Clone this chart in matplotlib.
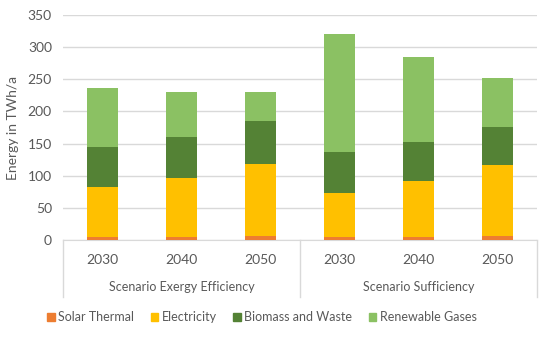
import matplotlib
matplotlib.use("Agg")
import matplotlib.pyplot as plt
import numpy as np
from matplotlib.transforms import blended_transform_factory
from matplotlib.patches import Patch

years = ["2030", "2040", "2050", "2030", "2040", "2050"]
groups = ["Scenario Exergy Efficiency", "Scenario Sufficiency"]
solar = [5, 5, 7, 5, 5, 7]
electricity = [78, 91, 111, 68, 87, 109]
biomass = [61, 65, 67, 64, 61, 60]
gases = [92, 69, 45, 184, 131, 76]
series = [("Solar Thermal", solar, "#ED7D31"),
          ("Electricity", electricity, "#FFC000"),
          ("Biomass and Waste", biomass, "#548235"),
          ("Renewable Gases", gases, "#8BC163")]

plt.rcParams['font.family'] = ['Lato', 'DejaVu Sans']
fig = plt.figure(figsize=(5.5, 3.37), dpi=100)
ax = fig.add_axes([63/550, 1-240/337, (537-63)/550, (240-15)/337])

x = np.arange(len(years))
bottom = np.zeros(len(years))
for name, vals, col in series:
    ax.bar(x, vals, width=0.39, bottom=bottom, color=col, label=name, zorder=3)
    bottom += np.array(vals)

ax.set_xlim(-0.5, 5.5)
ax.set_ylim(0, 350)
ax.set_yticks(range(0, 351, 50))
ax.yaxis.grid(True, color="#D9D9D9", linewidth=1)
ax.set_axisbelow(True)
for s in ["top", "right", "left"]:
    ax.spines[s].set_visible(False)
ax.spines["bottom"].set_color("#D9D9D9")
ax.tick_params(axis="y", length=0, labelsize=10, colors="#595959", pad=8)
ax.tick_params(axis="x", length=0, labelbottom=False)
ax.set_ylabel("Energy in TWh/a", fontsize=10, color="#595959", labelpad=6)

tr = blended_transform_factory(ax.transData, ax.transAxes)
h = (240-15)
for i, y in enumerate(years):
    ax.text(i, -(260-240)/h, y, transform=tr, ha="center", va="center",
            fontsize=10, color="#595959")
for g, name in enumerate(groups):
    ax.text(1 + 3*g, -(287-240)/h, name, transform=tr, ha="center", va="center",
            fontsize=9, color="#595959")
for xv in [-0.5, 2.5, 5.5]:
    ax.plot([xv, xv], [0, -(297-240)/h], transform=tr, color="#D9D9D9",
            linewidth=1, clip_on=False)

handles = [Patch(color=c, label=n) for n, _, c in series]
fig.legend(handles=handles, loc="center", bbox_to_anchor=(262/550, 1-317/337),
           ncol=4, frameon=False, fontsize=9, handlelength=0.6, handleheight=0.6,
           handletextpad=0.3, columnspacing=1.3, labelcolor="#595959")

fig.savefig("out.png", dpi=100)
